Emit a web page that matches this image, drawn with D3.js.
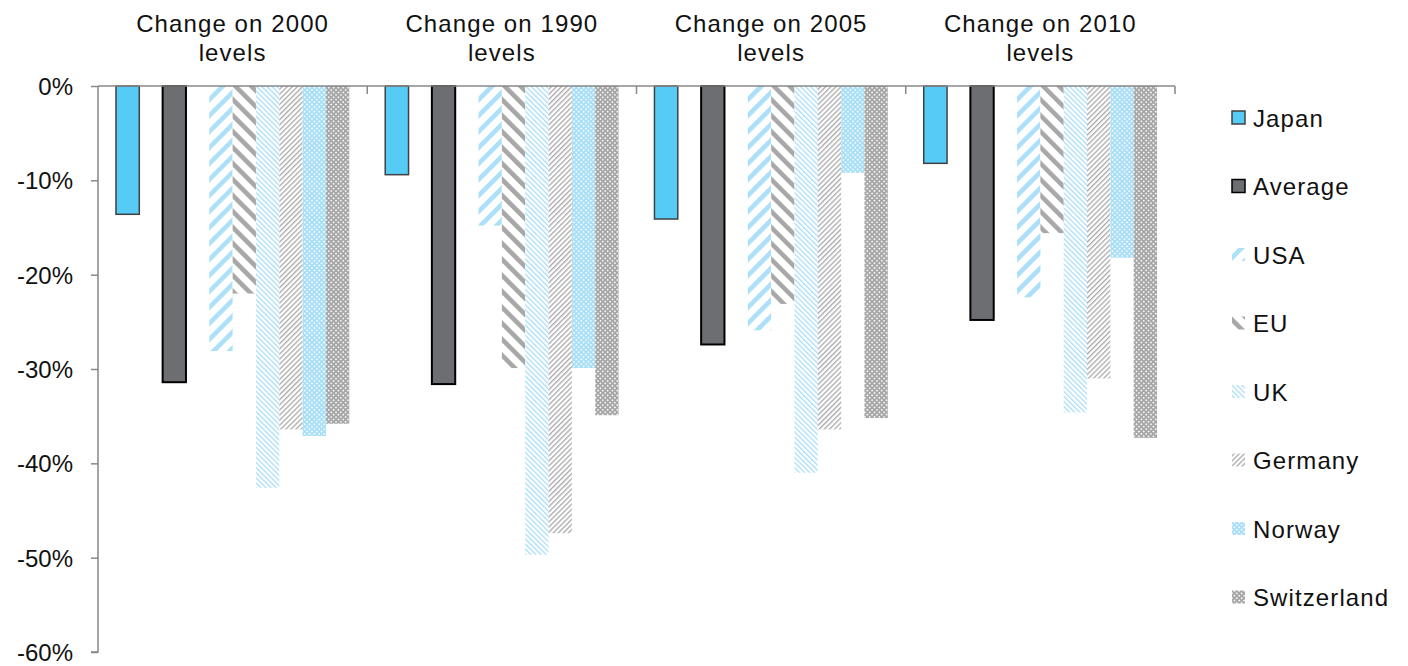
<!DOCTYPE html>
<html>
<head>
<meta charset="utf-8">
<script src="https://cdn.jsdelivr.net/npm/d3@7/dist/d3.min.js"></script>
<style>
  html, body { margin: 0; padding: 0; background: #fff; }
  svg { display: block; }
  text { font-family: "Liberation Sans", Arial, sans-serif; fill: #111; }
</style>
</head>
<body>
<svg id="chart" width="1408" height="666"></svg>
<script>
// ---- data ----
const categories = ["Change on 2000 levels", "Change on 1990 levels", "Change on 2005 levels", "Change on 2010 levels"];
const titleLines = [["Change on 2000", "levels"], ["Change on 1990", "levels"], ["Change on 2005", "levels"], ["Change on 2010", "levels"]];
const seriesNames = ["Japan", "Average", "USA", "EU", "UK", "Germany", "Norway", "Switzerland"];
const japan       = [-0.136, -0.094, -0.141, -0.082];
const average     = [-0.314, -0.316, -0.274, -0.248];
const usa         = [-0.281, -0.148, -0.259, -0.224];
const eu          = [-0.220, -0.299, -0.231, -0.156];
const uk          = [-0.426, -0.497, -0.410, -0.346];
const germany     = [-0.364, -0.474, -0.364, -0.310];
const norway      = [-0.371, -0.299, -0.092, -0.182];
const switzerland = [-0.358, -0.349, -0.352, -0.373];
const yTicks = [0, -0.1, -0.2, -0.3, -0.4, -0.5, -0.6];
// slot order inside each category (blank slots mimic empty series)
const slotOrder = ["Japan", "_blank1", "Average", "_blank2", "USA", "EU", "UK", "Germany", "Norway", "Switzerland"];

const seriesValues = { Japan: japan, Average: average, USA: usa, EU: eu, UK: uk, Germany: germany, Norway: norway, Switzerland: switzerland };

// ---- layout ----
const svg = d3.select("#chart");
const mLeft = 98, mRight = 1175, mTop = 86, mBottom = 652;

const y = d3.scaleLinear().domain([-0.6, 0]).range([mBottom, mTop]);
const x0 = d3.scaleBand().domain(categories).range([mLeft, mRight]).paddingInner(0).paddingOuter(0);
const x1 = d3.scaleBand().domain(slotOrder).range([0, x0.bandwidth()]).paddingInner(0).paddingOuter(0.77);

// ---- patterns ----
const defs = svg.append("defs");
function stripePattern(id, color, period, width, angle) {
  const p = defs.append("pattern").attr("id", id)
    .attr("patternUnits", "userSpaceOnUse")
    .attr("width", period).attr("height", period)
    .attr("patternTransform", `rotate(${angle})`);
  p.append("rect").attr("width", period).attr("height", period).attr("fill", "#fff");
  p.append("rect").attr("x", 0).attr("y", 0).attr("width", width).attr("height", period).attr("fill", color);
}
function gridPattern(id, color, size) {
  const p = defs.append("pattern").attr("id", id)
    .attr("patternUnits", "userSpaceOnUse")
    .attr("width", size).attr("height", size)
    .attr("patternTransform", "rotate(45)");
  p.append("rect").attr("width", size).attr("height", size).attr("fill", color);
  p.append("rect").attr("x", 0).attr("y", 0).attr("width", size / 2.2).attr("height", size / 2.2).attr("fill", "#fff");
}
stripePattern("pUSA", "#abe0f8", 11.3, 4.6, 45);
stripePattern("pEU", "#a8a8a8", 11.3, 4.6, -45);
stripePattern("pUK", "#a9def7", 3.6, 1.3, -45);
stripePattern("pGER", "#a9a9a9", 3.6, 1.3, 45);
gridPattern("pNOR", "#a9def7", 3.4);
gridPattern("pSWI", "#a6a6a6", 3.4);

const styles = {
  Japan:       { fill: "#56cbf5", stroke: "#404040", sw: 1.5 },
  Average:     { fill: "#6d6e72", stroke: "#000", sw: 2 },
  USA:         { fill: "url(#pUSA)", stroke: "none", sw: 0 },
  EU:          { fill: "url(#pEU)", stroke: "none", sw: 0 },
  UK:          { fill: "url(#pUK)", stroke: "none", sw: 0 },
  Germany:     { fill: "url(#pGER)", stroke: "none", sw: 0 },
  Norway:      { fill: "url(#pNOR)", stroke: "none", sw: 0 },
  Switzerland: { fill: "url(#pSWI)", stroke: "none", sw: 0 }
};

// ---- bars ----
const groups = svg.append("g").selectAll("g").data(categories).join("g")
  .attr("transform", d => `translate(${x0(d)},0)`);

groups.selectAll("rect")
  .data((cat, ci) => seriesNames.map(s => ({ s, v: seriesValues[s][ci] })))
  .join("rect")
  .attr("x", d => x1(d.s))
  .attr("width", x1.bandwidth())
  .attr("y", d => y(0))
  .attr("height", d => y(d.v) - y(0))
  .attr("fill", d => styles[d.s].fill)
  .attr("stroke", d => styles[d.s].stroke)
  .attr("stroke-width", d => styles[d.s].sw);

// ---- axes ----
const axisColor = "#888";
const loc = d3.formatLocale({ decimal: ".", thousands: ",", grouping: [3], currency: ["$", ""], minus: "-" });
const fmt = loc.format(".0%");

const yAxis = svg.append("g").attr("transform", `translate(${mLeft},0)`)
  .call(d3.axisLeft(y).tickValues(yTicks).tickFormat(fmt).tickSize(7).tickPadding(18));
yAxis.select(".domain").attr("stroke", axisColor).attr("stroke-width", 1.5).attr("d", `M-7,${mBottom}H0V${mTop}`);
yAxis.selectAll(".tick line").attr("stroke", axisColor).attr("stroke-width", 1.5);
yAxis.selectAll(".tick text").attr("font-size", 24).attr("fill", "#111")
  .style("font-family", "'Liberation Sans', Arial, sans-serif").attr("dy", "0.36em");

// category axis at zero with boundary ticks
const boundaries = categories.map(c => x0(c)).concat([x0(categories[categories.length - 1]) + x0.bandwidth()]);
const xAxis = svg.append("g");
xAxis.append("line").attr("x1", mLeft).attr("x2", mRight).attr("y1", y(0)).attr("y2", y(0))
  .attr("stroke", axisColor).attr("stroke-width", 1.5);
xAxis.selectAll("line.bt").data(boundaries.slice(1)).join("line").attr("class", "bt")
  .attr("x1", d => d).attr("x2", d => d).attr("y1", y(0)).attr("y2", y(0) + 8)
  .attr("stroke", axisColor).attr("stroke-width", 1.5);

// category titles
const titles = svg.append("g");
categories.forEach((c, i) => {
  const cx = x0(c) + x0.bandwidth() / 2;
  const t = titles.append("text").attr("x", cx).attr("y", 32).attr("text-anchor", "middle")
    .attr("font-size", 24).attr("letter-spacing", 1.1);
  t.append("tspan").attr("x", cx).attr("y", 32).text(titleLines[i][0]);
  t.append("tspan").attr("x", cx).attr("y", 61).text(titleLines[i][1]);
});

// ---- legend ----
const legend = svg.append("g").attr("transform", "translate(1232,0)");
const legY = d3.scalePoint().domain(seriesNames).range([117.5, 597]);
const li = legend.selectAll("g").data(seriesNames).join("g")
  .attr("transform", d => `translate(0,${legY(d)})`);
li.append("rect").attr("x", 0).attr("y", -6.5).attr("width", 13).attr("height", 13)
  .attr("fill", d => styles[d].fill)
  .attr("stroke", d => styles[d].stroke)
  .attr("stroke-width", d => styles[d].sw ? 1.5 : 0);
li.append("text").attr("x", 21).attr("y", 9).attr("font-size", 24).attr("letter-spacing", 1.1)
  .text(d => d);
</script>
</body>
</html>
